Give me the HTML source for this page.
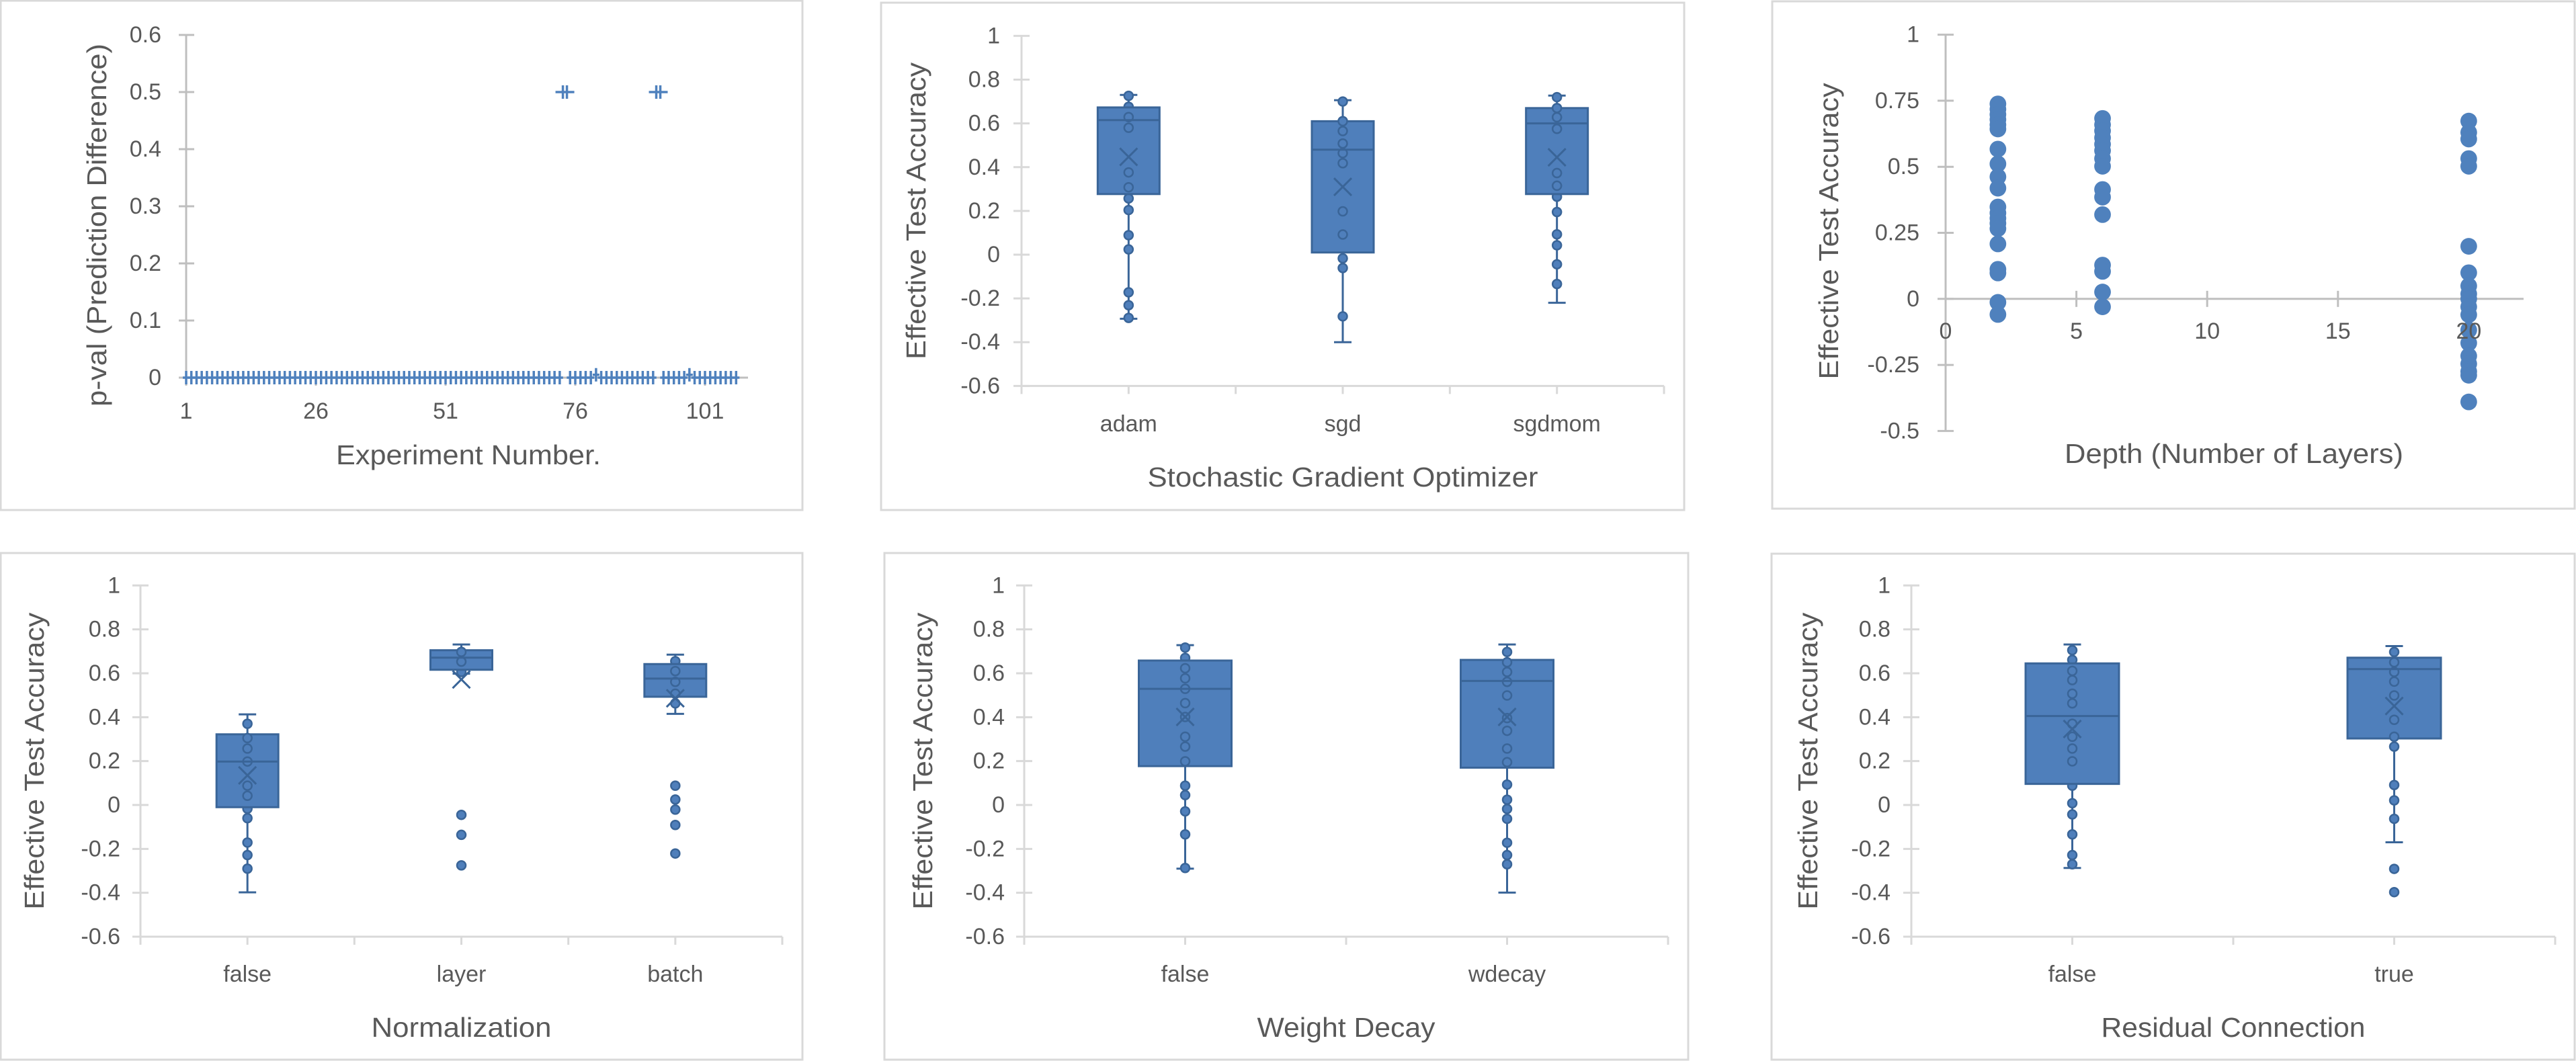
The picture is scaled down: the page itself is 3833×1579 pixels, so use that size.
<!DOCTYPE html>
<html><head><meta charset="utf-8"><title>Experiment charts</title>
<style>
html,body{margin:0;padding:0;background:#fff;}
svg{display:block;}
text{font-family:"Liberation Sans",sans-serif;fill:#595959;}
</style></head>
<body>
<svg id="root" width="3833" height="1579" viewBox="0 0 3833 1579" xmlns="http://www.w3.org/2000/svg"></svg>
<script>
// ---------- Panel 1 data: p-values per experiment ----------
const pvalExperiments = Array.from({length:107},(_,i)=>i+1);
const pvalValues = [
0,0,0,0,0,0,0,0,0,0,
0,0,0,0,0,0,0,0,0,0,
0,0,0,0,0,0,0,0,0,0,
0,0,0,0,0,0,0,0,0,0,
0,0,0,0,0,0,0,0,0,0,
0,0,0,0,0,0,0,0,0,0,
0,0,0,0,0,0,0,0,0,0,
0,0,0,0.5,0,0,0,0,0,0.005,
0,0,0,0,0,0,0,0,0,0,
0,0.5,0,0,0,0,0,0.005,0,0,
0,0,0,0,0,0,0];
const pvalYTicks = [0,0.1,0.2,0.3,0.4,0.5,0.6];
const pvalXTicks = [1,26,51,76,101];

// ---------- Panel 2: optimizer ----------
const optCats = ['adam','sgd','sgdmom'];
const optQ1 = [0.277,0.01,0.277];
const optMed = [0.615,0.48,0.60];
const optQ3 = [0.673,0.61,0.67];
const optMean = [0.447,0.31,0.445];
const optLo = [-0.293,-0.40,-0.22];
const optHi = [0.73,0.706,0.727];
const optPts = [
 [0.726,0.676,0.629,0.58,0.376,0.308,0.257,0.204,0.089,0.024,-0.172,-0.231,-0.289],
 [0.70,0.61,0.565,0.508,0.464,0.418,0.198,0.092,-0.017,-0.061,-0.282],
 [0.72,0.67,0.628,0.575,0.373,0.315,0.265,0.195,0.093,0.043,-0.044,-0.134]];

// ---------- Panel 3: depth scatter ----------
const depthX = [2,2,2,2,2,2,2,2,2,2,2,2,2,2,2,2,2,2,2,2,
  6,6,6,6,6,6,6,6,6,6,6,6,6,6,6,
  20,20,20,20,20,20,20,20,20,20,20,20,20,20,20,20,20,20,20];
const depthAcc = [0.738,0.718,0.698,0.679,0.659,0.643,0.567,0.511,0.462,0.419,0.348,0.325,0.305,0.286,0.266,0.208,0.112,0.098,-0.013,-0.059,
  0.683,0.659,0.636,0.61,0.585,0.561,0.531,0.502,0.414,0.385,0.319,0.128,0.104,0.026,-0.03,
  0.673,0.63,0.605,0.531,0.502,0.199,0.099,0.049,0.019,0.0,-0.03,-0.06,-0.118,-0.167,-0.216,-0.246,-0.275,-0.289,-0.39];
const depthYTicks = [1,0.75,0.5,0.25,0,-0.25,-0.5];
const depthYLabels = ['1','0.75','0.5','0.25','0','-0.25','-0.5'];
const depthXTicks = [0,5,10,15,20];

// ---------- Panel 4: normalization ----------
const normCats = ['false','layer','batch'];
const normQ1 = [-0.01,0.616,0.493];
const normMed = [0.198,0.671,0.576];
const normQ3 = [0.322,0.705,0.642];
const normMean = [0.135,0.572,0.486];
const normLo = [-0.398,0.598,0.415];
const normHi = [0.413,0.731,0.685];
const normPts = [
 [0.37,0.305,0.257,0.198,0.088,0.042,-0.017,-0.06,-0.171,-0.228,-0.29],
 [0.697,0.653,0.606,-0.045,-0.136,-0.275],
 [0.655,0.61,0.561,0.507,0.463,0.088,0.025,-0.021,-0.091,-0.221]];

// ---------- Panel 5: weight decay ----------
const wdCats = ['false','wdecay'];
const wdQ1 = [0.177,0.17];
const wdMed = [0.529,0.565];
const wdQ3 = [0.658,0.661];
const wdMean = [0.401,0.401];
const wdLo = [-0.29,-0.399];
const wdHi = [0.728,0.731];
const wdPts = [
 [0.717,0.67,0.623,0.577,0.529,0.464,0.401,0.311,0.266,0.199,0.088,0.045,-0.029,-0.134,-0.287],
 [0.697,0.65,0.606,0.561,0.499,0.396,0.338,0.257,0.195,0.093,0.024,-0.018,-0.063,-0.172,-0.228,-0.27]];

// ---------- Panel 6: residual ----------
const resCats = ['false','true'];
const resQ1 = [0.096,0.303];
const resMed = [0.405,0.619];
const resQ3 = [0.645,0.671];
const resMean = [0.346,0.451];
const resLo = [-0.287,-0.17];
const resHi = [0.731,0.724];
const resPts = [
 [0.705,0.661,0.611,0.569,0.507,0.463,0.37,0.311,0.257,0.199,0.088,0.008,-0.043,-0.134,-0.228,-0.27],
 [0.697,0.65,0.606,0.562,0.499,0.388,0.311,0.266,0.091,0.021,-0.063,-0.291,-0.397]];

const boxYTicks = [1,0.8,0.6,0.4,0.2,0,-0.2,-0.4,-0.6];

// ---------- helpers ----------
const NS = 'http://www.w3.org/2000/svg';
const root = document.getElementById('root');
function el(tag, attrs, parent){
  const e = document.createElementNS(NS, tag);
  for (const k in attrs) e.setAttribute(k, attrs[k]);
  (parent||root).appendChild(e);
  return e;
}
const AX = '#d9d9d9', AX2 = '#bfbfbf', BLUE = '#4f7fbb', DARK = '#3a6598';
const TICK_FS = 34;

function frame(name, x1,y1,x2,y2){
  const g = el('g',{});
  
  
  const r = el('rect',{x:x1,y:y1,width:x2-x1,height:y2-y1,fill:'#fff',stroke:'#d9d9d9','stroke-width':3},g);
  
  
  return g;
}
function label(g, x, y, txt, size, anchor, name){
  const t = el('text',{x:x,y:y,'font-size':size,'text-anchor':anchor||'middle','dominant-baseline':'central'},g);
  t.textContent = txt;
  
  
  return t;
}
function title(g, x, y, txt, len, rotate, name){
  const t = el('text',{x:x,y:y,'font-size':41,'text-anchor':'middle','dominant-baseline':'central',textLength:len,lengthAdjust:'spacingAndGlyphs'},g);
  if (rotate) t.setAttribute('transform','rotate(-90 '+x+' '+y+')');
  t.textContent = txt;
  
  
}

// ---------- Panel 1 ----------
(function(){
  const g = frame('pval-chart', 1,1,1194,759);
  const X = v => 277 + (v-1)*7.72;
  const Y = v => 562 - v*850;
  el('line',{x1:277,y1:Y(0.6),x2:277,y2:Y(0),stroke:AX2,'stroke-width':3},g);
  pvalYTicks.forEach(t=>{
    el('line',{x1:266,y1:Y(t),x2:289,y2:Y(t),stroke:AX2,'stroke-width':3},g);
    label(g,240,Y(t),String(t),TICK_FS,'end','y-tick-label');
  });
  el('line',{x1:266,y1:Y(0),x2:1113,y2:Y(0),stroke:AX2,'stroke-width':3},g);
  pvalXTicks.forEach(t=>{
    el('line',{x1:X(t),y1:Y(0),x2:X(t),y2:Y(0)+12,stroke:AX2,'stroke-width':3},g);
    label(g,X(t),612,String(t),TICK_FS,'middle','x-tick-label');
  });
  pvalExperiments.forEach((e,i)=>{
    const x = X(e), y = Y(pvalValues[i]);
    const hw = pvalValues[i] > 0.1 ? 14 : 5;
    let d = 'M'+(x-hw)+' '+y+'H'+(x+hw)+'M'+x+' '+(y-10)+'V'+(y+10);
    if (pvalValues[i] > 0.1) d = 'M'+(x-hw)+' '+y+'H'+(x+hw)+'M'+(x-3)+' '+(y-10)+'V'+(y+10)+'M'+(x+3)+' '+(y-10)+'V'+(y+10);
    const p = el('path',{d:d,stroke:'#4f81bd','stroke-width':3.5,fill:'none'},g);
    
    
  });
  title(g,144,335,'p-val (Prediction Difference)',540,true,'y-axis-title');
  title(g,697,677,'Experiment Number.',394,false,'x-axis-title');
})();

// ---------- box plot panel ----------
function boxPanel(name, fr, gm, cats, q1, med, q3, mean, lo, hi, pts, xTitle, xTitleLen){
  const g = frame(name, fr[0],fr[1],fr[2],fr[3]);
  const Y = v => gm.y0 - v*gm.unit;
  const cw = (gm.axEnd - gm.axX)/cats.length;
  const CX = i => gm.axX + cw*(i+0.5);
  el('line',{x1:gm.axX,y1:Y(1),x2:gm.axX,y2:Y(-0.6),stroke:AX,'stroke-width':3},g);
  boxYTicks.forEach(t=>{
    el('line',{x1:gm.axX-12,y1:Y(t),x2:gm.axX+12,y2:Y(t),stroke:AX,'stroke-width':3},g);
    label(g,gm.labelRight,Y(t),String(t),TICK_FS,'end','y-tick-label');
  });
  el('line',{x1:gm.axX,y1:Y(-0.6),x2:gm.axEnd,y2:Y(-0.6),stroke:AX,'stroke-width':3},g);
  for (let i=0;i<=cats.length*2;i++){
    const x = gm.axX + cw*i/2;
    el('line',{x1:x,y1:Y(-0.6),x2:x,y2:Y(-0.6)+12,stroke:AX,'stroke-width':3},g);
  }
  cats.forEach((c,i)=>{
    const cx = CX(i), bw = gm.boxW;
    const bg = el('g',{},g);
    
    
    el('line',{x1:cx,y1:Y(hi[i]),x2:cx,y2:Y(lo[i]),stroke:DARK,'stroke-width':3},bg);
    el('line',{x1:cx-13,y1:Y(hi[i]),x2:cx+13,y2:Y(hi[i]),stroke:DARK,'stroke-width':3},bg);
    el('line',{x1:cx-13,y1:Y(lo[i]),x2:cx+13,y2:Y(lo[i]),stroke:DARK,'stroke-width':3},bg);
    pts[i].forEach(v=>{
      const c2 = el('circle',{cx:cx,cy:Y(v),r:6.5,fill:BLUE,stroke:DARK,'stroke-width':2.5},bg);
      
      
    });
    const r = el('rect',{x:cx-bw/2,y:Y(q3[i]),width:bw,height:Y(q1[i])-Y(q3[i]),fill:BLUE,stroke:DARK,'stroke-width':3},bg);
    
    
    pts[i].forEach(v=>{
      if (v>=q1[i] && v<=q3[i]) el('circle',{cx:cx,cy:Y(v),r:6.5,fill:BLUE,stroke:DARK,'stroke-width':2.5},bg);
    });
    el('line',{x1:cx-bw/2,y1:Y(med[i]),x2:cx+bw/2,y2:Y(med[i]),stroke:DARK,'stroke-width':3},bg);
    const my = Y(mean[i]);
    el('path',{d:'M'+(cx-13)+' '+(my-13)+'L'+(cx+13)+' '+(my+13)+'M'+(cx+13)+' '+(my-13)+'L'+(cx-13)+' '+(my+13),stroke:DARK,'stroke-width':3,fill:'none'},bg);
    label(g,cx,gm.catY,c,TICK_FS,'middle','category-label');
  });
  title(g,gm.titleX,(Y(1)+Y(-0.6))/2,'Effective Test Accuracy',442,true,'y-axis-title');
  title(g,(gm.axX+gm.axEnd)/2,gm.xTitleY,xTitle,xTitleLen,false,'x-axis-title');
}

boxPanel('optimizer-chart',[1311,4,2506,759],
  {axX:1520,axEnd:2476,y0:379,unit:325.6,labelRight:1488,titleX:1363,catY:631,xTitleY:710,boxW:92},
  optCats,optQ1,optMed,optQ3,optMean,optLo,optHi,optPts,'Stochastic Gradient Optimizer',581);
boxPanel('normalization-chart',[1,823,1194,1577],
  {axX:209,axEnd:1164,y0:1198,unit:326.7,labelRight:179,titleX:51,catY:1450,xTitleY:1529,boxW:92},
  normCats,normQ1,normMed,normQ3,normMean,normLo,normHi,normPts,'Normalization',268);
boxPanel('weight-decay-chart',[1316,823,2512,1577],
  {axX:1524,axEnd:2482,y0:1198,unit:326.7,labelRight:1495,titleX:1373,catY:1450,xTitleY:1529,boxW:138},
  wdCats,wdQ1,wdMed,wdQ3,wdMean,wdLo,wdHi,wdPts,'Weight Decay',265);
boxPanel('residual-chart',[2636,824,3831,1577],
  {axX:2844,axEnd:3802,y0:1198,unit:326.7,labelRight:2813,titleX:2690,catY:1450,xTitleY:1529,boxW:139},
  resCats,resQ1,resMed,resQ3,resMean,resLo,resHi,resPts,'Residual Connection',393);

// ---------- Panel 3 ----------
(function(){
  const g = frame('depth-chart', 2637,2,3831,757);
  const X = d => 2895 + d*38.92;
  const Y = v => 444.8 - v*393.2;
  el('line',{x1:X(0),y1:Y(1),x2:X(0),y2:Y(-0.5),stroke:AX2,'stroke-width':3},g);
  depthYTicks.forEach((t,i)=>{
    el('line',{x1:X(0)-12,y1:Y(t),x2:X(0)+12,y2:Y(t),stroke:AX2,'stroke-width':3},g);
    label(g,2856,Y(t),depthYLabels[i],TICK_FS,'end','y-tick-label');
  });
  el('line',{x1:X(0),y1:Y(0),x2:3755,y2:Y(0),stroke:AX2,'stroke-width':3},g);
  depthXTicks.forEach(t=>{
    if (t>0) el('line',{x1:X(t),y1:Y(0)-12,x2:X(t),y2:Y(0)+12,stroke:AX2,'stroke-width':3},g);
  });
  depthX.forEach((d,i)=>{
    const c = el('circle',{cx:X(d),cy:Y(depthAcc[i]),r:12.4,fill:'#4f81bd'},g);
    
    
  });
  depthXTicks.forEach(t=>{
    label(g,X(t),493,String(t),TICK_FS,'middle','x-tick-label');
  });
  title(g,2721,344,'Effective Test Accuracy',441,true,'y-axis-title');
  title(g,3324,675,'Depth (Number of Layers)',504,false,'x-axis-title');
})();
</script>
</body></html>
